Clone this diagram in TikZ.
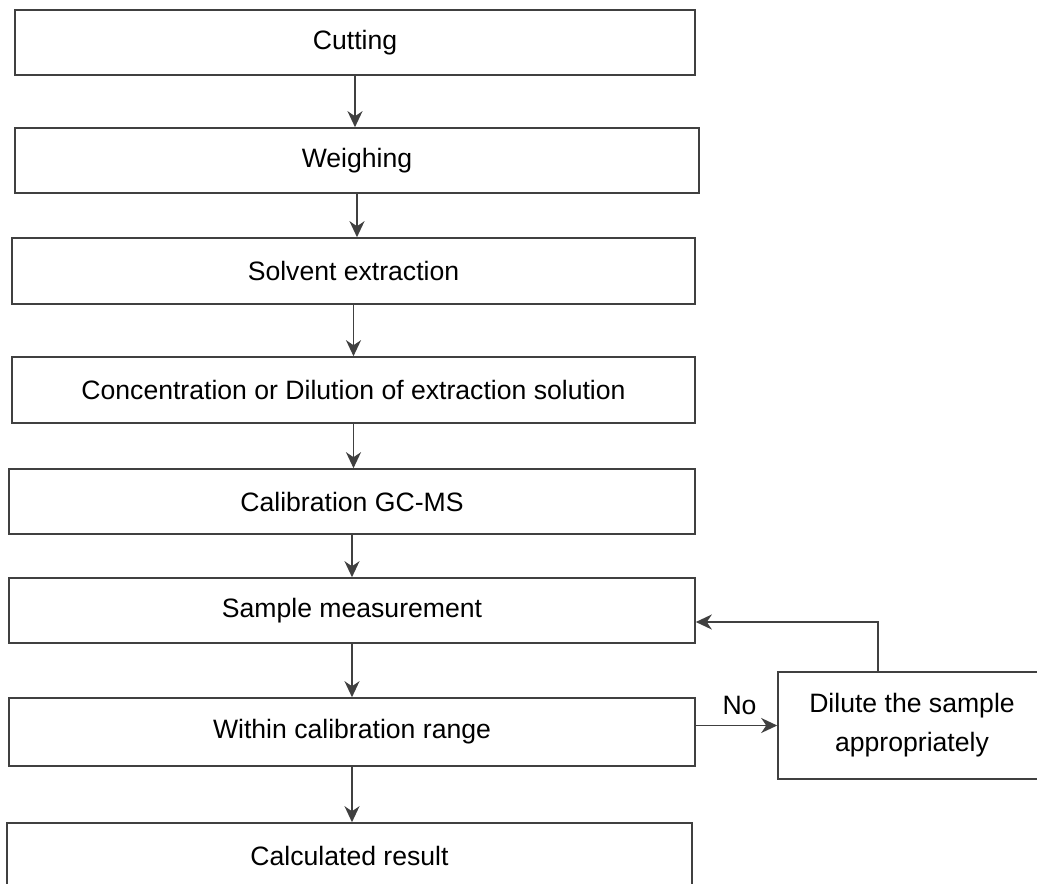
\documentclass[tikz,border=0pt]{standalone}
\usepackage{fontspec}
\setmainfont{Liberation Sans}
\usepackage{xcolor}
\usetikzlibrary{arrows.meta}
\definecolor{linegray}{HTML}{404040}

\begin{document}
\begin{tikzpicture}[x=1pt,y=-1pt,font=\fontsize{26.6}{39}\selectfont,
box/.style={draw=linegray,line width=1.6pt,fill=white,inner sep=0pt,minimum height=65pt,align=center},
link/.style={draw=linegray,line width=1.6pt,-{Stealth[length=16pt,width=15pt,inset=5pt]}}]
\useasboundingbox(0,0)rectangle(1037,884);
\node[box,minimum width=680pt](cut)at(355,42.5){Cutting};
\node[box,minimum width=684pt](weigh)at(357,160.5){Weighing};
\node[box,minimum width=683pt,minimum height=66pt](solv)at(353.5,271){Solvent extraction};
\node[box,minimum width=683pt,minimum height=66pt](conc)at(353.5,390){Concentration or Dilution of extraction solution};
\node[box,minimum width=686pt](calib)at(352,501.5){Calibration GC-MS};
\node[box,minimum width=686pt](samp)at(352,610.5){Sample measurement};
\node[box,minimum width=686pt,minimum height=68pt](within)at(352,732){Within calibration range};
\node[box,minimum width=685pt,minimum height=66pt](calc)at(349.5,856){Calculated result};
\node[box,minimum width=268pt,minimum height=107pt](dilute)at(912,725.5){Dilute the sample\\appropriately};
\coordinate(turn)at(878,622);
\draw[link](cut)--(cut|-weigh.north);
\draw[link](weigh)--(weigh|-solv.north);
\draw[link](solv)--(solv|-conc.north);
\draw[link](conc)--(conc|-calib.north);
\draw[link](calib)--(calib|-samp.north);
\draw[link](samp)--(samp|-within.north);
\draw[link](within)--(within|-calc.north);
\draw[link](within.east|-dilute.west)--(dilute.west)node[midway,above=7pt,xshift=3pt]{No};
\draw[link](dilute.north-|turn)--(turn)--(samp.east|-turn);
\end{tikzpicture}
\end{document}
